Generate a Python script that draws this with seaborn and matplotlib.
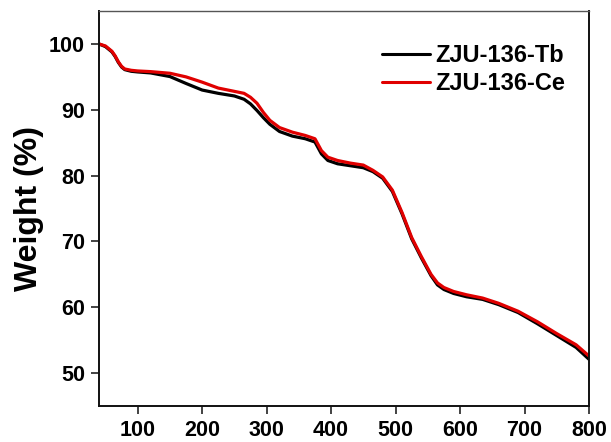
import numpy as np
import pandas as pd
import matplotlib
matplotlib.use("Agg")
import matplotlib.pyplot as plt
import seaborn as sns

# Temperature (°C) and TGA weight-loss curves
temperature = [40, 50, 60, 65, 70, 75, 80, 90, 100, 120, 150, 175, 200, 225, 250,
               265, 275, 285, 295, 305, 320, 340, 360, 375, 385, 395, 410, 430, 450,
               465, 480, 495, 510, 525, 540, 555, 565, 575, 590, 610, 635, 660, 690,
               720, 750, 780, 800]
weight_tb = [100.0, 99.6, 98.8, 98.1, 97.2, 96.5, 96.1, 95.85, 95.75, 95.6, 95.05, 94.0,
             93.0, 92.5, 92.1, 91.6, 90.9, 89.9, 88.8, 87.8, 86.7, 86.0, 85.6, 85.1,
             83.3, 82.3, 81.8, 81.5, 81.2, 80.6, 79.6, 77.6, 74.2, 70.4, 67.5, 64.8,
             63.4, 62.7, 62.1, 61.6, 61.2, 60.4, 59.2, 57.5, 55.7, 53.9, 52.1]
weight_ce = [100.0, 99.7, 98.9, 98.2, 97.3, 96.6, 96.2, 96.0, 95.9, 95.8, 95.55, 95.0,
             94.2, 93.3, 92.8, 92.5, 91.9, 91.0, 89.6, 88.4, 87.3, 86.6, 86.1, 85.6,
             83.8, 82.8, 82.3, 81.9, 81.6, 80.8, 79.8, 77.8, 74.4, 70.6, 67.7, 65.0,
             63.7, 63.0, 62.4, 61.9, 61.4, 60.6, 59.4, 57.8, 56.0, 54.3, 52.6]
series_names = ["ZJU-136-Tb", "ZJU-136-Ce"]
x_ticks = [100, 200, 300, 400, 500, 600, 700, 800]
y_ticks = [50, 60, 70, 80, 90, 100]

df = pd.concat([
    pd.DataFrame({"T": temperature, "W": weight_tb, "sample": series_names[0]}),
    pd.DataFrame({"T": temperature, "W": weight_ce, "sample": series_names[1]}),
])

sns.set_style("ticks")
plt.rcParams["font.family"] = ["Liberation Sans", "DejaVu Sans"]

fig = plt.figure(figsize=(6.11, 4.42), dpi=100)
ax = fig.add_axes([0.162, 0.0814, 0.802, 0.8936])

sns.lineplot(data=df, x="T", y="W", hue="sample", palette=["#000000", "#e00000"],
             linewidth=2.3, ax=ax, sort=False)

ax.set_xlim(40, 800)
ax.set_ylim(45, 105)
ax.set_xticks(x_ticks)
ax.set_yticks(y_ticks)
ax.set_xlabel("")
ax.set_ylabel("Weight (%)", fontsize=23, fontweight="bold", color="black")
ax.yaxis.set_label_coords(-0.112, 0.5)
ax.tick_params(axis="both", direction="out", length=6, width=1.2, labelsize=15.5,
               colors="#222222", labelcolor="black", pad=4)
for lbl in ax.get_xticklabels() + ax.get_yticklabels():
    lbl.set_fontweight("bold")

for side in ["left", "bottom", "right"]:
    ax.spines[side].set_visible(True)
    ax.spines[side].set_linewidth(1.4)
    ax.spines[side].set_color("#111111")
ax.spines["top"].set_visible(True)
ax.spines["top"].set_linewidth(1.0)
ax.spines["top"].set_color("#555555")

leg = ax.legend(loc="upper right", bbox_to_anchor=(0.995, 0.97), frameon=False,
                handlelength=2.0, handletextpad=0.25, labelspacing=0.22,
                prop={"weight": "bold", "size": 17})
for h in leg.get_lines():
    h.set_linewidth(2.2)
for t in leg.get_texts():
    t.set_color("black")

fig.savefig("out.png", dpi=100)
